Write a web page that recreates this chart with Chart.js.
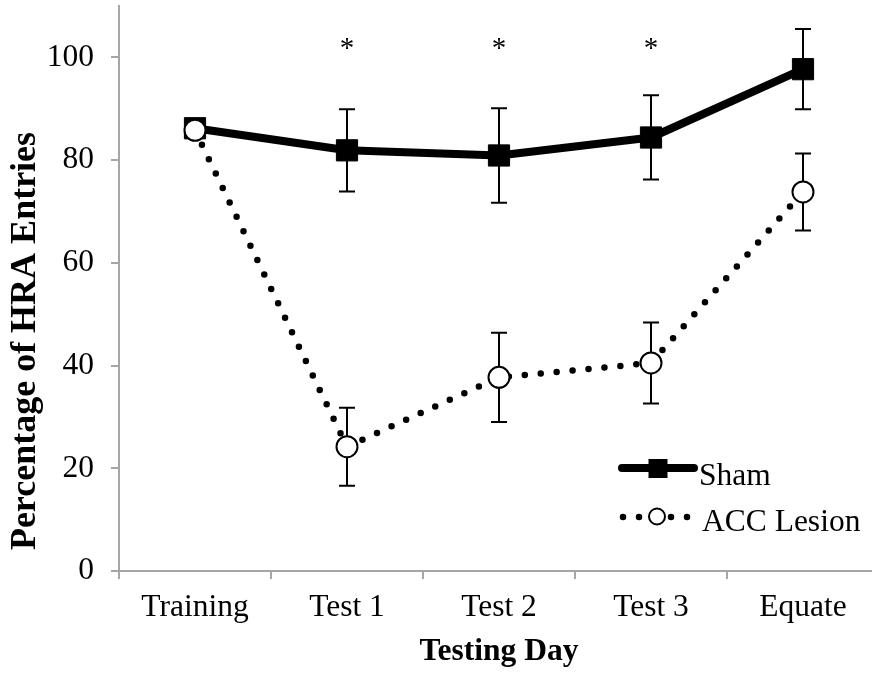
<!DOCTYPE html>
<html>
<head>
<meta charset="utf-8">
<script src="https://cdn.jsdelivr.net/npm/chart.js@4.4.1/dist/chart.umd.min.js"></script>
<style>
  html, body { margin: 0; padding: 0; background: #fff; overflow: hidden; width: 872px; height: 675px; }
  canvas { display: block; }
</style>
</head>
<body>
<canvas id="c" width="900" height="675"></canvas>
<script>
// Testing days (x categories)
const days = ['Training', 'Test 1', 'Test 2', 'Test 3', 'Equate'];

// Sham group: mean % HRA entries and error (±)
const shamMean = [86.2, 81.9, 80.9, 84.4, 97.7];
const shamErr  = [0, 8.0, 9.2, 8.2, 7.8];

// ACC lesion group: mean % HRA entries and error (±)
const lesionMean = [85.8, 24.2, 37.7, 40.5, 73.8];
const lesionErr  = [0, 7.6, 8.7, 7.9, 7.5];

// Significance markers per day
const starMarks = ['', '*', '*', '*', ''];
const starLevel = 101.5;

// Y axis
const yTicks = [0, 20, 40, 60, 80, 100];
const yMax = 110;

const FONT = '"Liberation Serif", "Times New Roman", serif';
const AXIS_GREY = '#a6a6a6';

// Vertical error bars with caps, drawn beneath the markers
const errorBars = {
  id: 'errorBars',
  beforeDatasetsDraw(chart) {
    const { ctx, scales: { x, y } } = chart;
    ctx.save();
    ctx.strokeStyle = '#000';
    ctx.lineWidth = 2;
    chart.data.datasets.forEach(ds => {
      const errs = ds.errors || [];
      ds.data.forEach((v, i) => {
        const e = errs[i];
        if (!e) return;
        const px = Math.round(x.getPixelForValue(i));
        const yt = y.getPixelForValue(v + e);
        const yb = y.getPixelForValue(v - e);
        ctx.beginPath();
        ctx.moveTo(px, yt); ctx.lineTo(px, yb);
        ctx.moveTo(px - 8, yt); ctx.lineTo(px + 8, yt);
        ctx.moveTo(px - 8, yb); ctx.lineTo(px + 8, yb);
        ctx.stroke();
      });
    });
    ctx.restore();
  }
};

// Asterisks marking significant days
const stars = {
  id: 'stars',
  afterDatasetsDraw(chart) {
    const { ctx, scales: { x, y } } = chart;
    ctx.save();
    ctx.fillStyle = '#000';
    ctx.font = '29px ' + FONT;
    ctx.textAlign = 'center';
    ctx.textBaseline = 'middle';
    starMarks.forEach((s, i) => {
      if (s) ctx.fillText(s, x.getPixelForValue(i), y.getPixelForValue(starLevel));
    });
    ctx.restore();
  }
};

// Legend in the lower right of the plot, with line and marker samples
const insetLegend = {
  id: 'insetLegend',
  afterDraw(chart) {
    const { ctx } = chart;
    const sham = chart.data.datasets[1];
    const acc = chart.data.datasets[0];
    ctx.save();
    // Sham sample
    ctx.strokeStyle = sham.borderColor;
    ctx.lineWidth = 8;
    ctx.lineCap = 'round';
    ctx.beginPath(); ctx.moveTo(622, 468); ctx.lineTo(694, 468); ctx.stroke();
    ctx.fillStyle = sham.pointBackgroundColor;
    ctx.fillRect(648.5, 459, 19, 19);
    // ACC lesion sample
    ctx.lineWidth = acc.borderWidth;
    ctx.setLineDash(acc.borderDash);
    ctx.beginPath(); ctx.moveTo(623, 517); ctx.lineTo(690, 517); ctx.stroke();
    ctx.setLineDash([]);
    ctx.lineWidth = 2;
    ctx.fillStyle = '#fff';
    ctx.beginPath(); ctx.arc(657, 516.5, 8, 0, Math.PI * 2); ctx.fill(); ctx.stroke();
    // Labels
    ctx.fillStyle = '#000';
    ctx.font = '31.5px ' + FONT;
    ctx.textAlign = 'left';
    ctx.textBaseline = 'alphabetic';
    ctx.fillText(sham.label, 699, 485);
    ctx.fillText(acc.label, 702, 531);
    ctx.restore();
  }
};

// Rotated y-axis title
const yTitle = {
  id: 'yTitle',
  afterDraw(chart) {
    const { ctx } = chart;
    ctx.save();
    ctx.translate(26, 341);
    ctx.rotate(-Math.PI / 2);
    ctx.fillStyle = '#000';
    ctx.font = 'bold 36px ' + FONT;
    ctx.textAlign = 'center';
    ctx.textBaseline = 'middle';
    ctx.fillText('Percentage of HRA Entries', 0, 0);
    ctx.restore();
  }
};

new Chart(document.getElementById('c'), {
  type: 'line',
  data: {
    labels: days,
    datasets: [
      {
        label: 'ACC Lesion',
        data: lesionMean,
        errors: lesionErr,
        order: 0,
        borderColor: '#000',
        borderWidth: 6.5,
        borderDash: [0, 16],
        borderCapStyle: 'round',
        pointStyle: 'circle',
        pointRadius: 10.5,
        pointHoverRadius: 10.5,
        pointBorderWidth: 2,
        pointBorderColor: '#000',
        pointBackgroundColor: '#fff',
        tension: 0,
        fill: false
      },
      {
        label: 'Sham',
        data: shamMean,
        errors: shamErr,
        order: 1,
        borderColor: '#000',
        borderWidth: 8,
        borderCapStyle: 'round',
        borderJoinStyle: 'round',
        pointStyle: 'rect',
        pointRadius: 15,
        pointHoverRadius: 15,
        pointBorderWidth: 1,
        pointBorderColor: '#000',
        pointBackgroundColor: '#000',
        tension: 0,
        fill: false
      }
    ]
  },
  options: {
    responsive: false,
    animation: false,
    devicePixelRatio: 1,
    layout: { autoPadding: false, padding: { top: 6, right: 21, bottom: 0, left: 0 } },
    plugins: {
      legend: { display: false },
      tooltip: { enabled: false }
    },
    scales: {
      x: {
        type: 'category',
        offset: true,
        grid: { offset: true, drawOnChartArea: false, drawTicks: true, tickLength: 8, color: AXIS_GREY, lineWidth: 2 },
        border: { color: AXIS_GREY, width: 2 },
        ticks: { color: '#000', font: { family: FONT, size: 31.5 }, padding: 10, maxRotation: 0, autoSkip: false },
        title: { display: true, text: 'Testing Day', color: '#000', font: { family: FONT, size: 31.5, weight: 'bold' }, padding: { top: 0, bottom: 4 } },
        afterFit(s) { s.height = 104; s.paddingLeft = 0; s.paddingRight = 0; }
      },
      y: {
        min: 0,
        max: yMax,
        afterBuildTicks(s) { s.ticks = yTicks.map(v => ({ value: v })); },
        grid: { drawOnChartArea: false, drawTicks: true, tickLength: 8, color: AXIS_GREY, lineWidth: 2 },
        border: { color: AXIS_GREY, width: 2 },
        ticks: { color: '#000', font: { family: FONT, size: 31.5 }, padding: 17 },
        afterFit(s) { s.width = 119; s.paddingTop = 0; s.paddingBottom = 0; }
      }
    }
  },
  plugins: [errorBars, stars, insetLegend, yTitle]
});
</script>
</body>
</html>
